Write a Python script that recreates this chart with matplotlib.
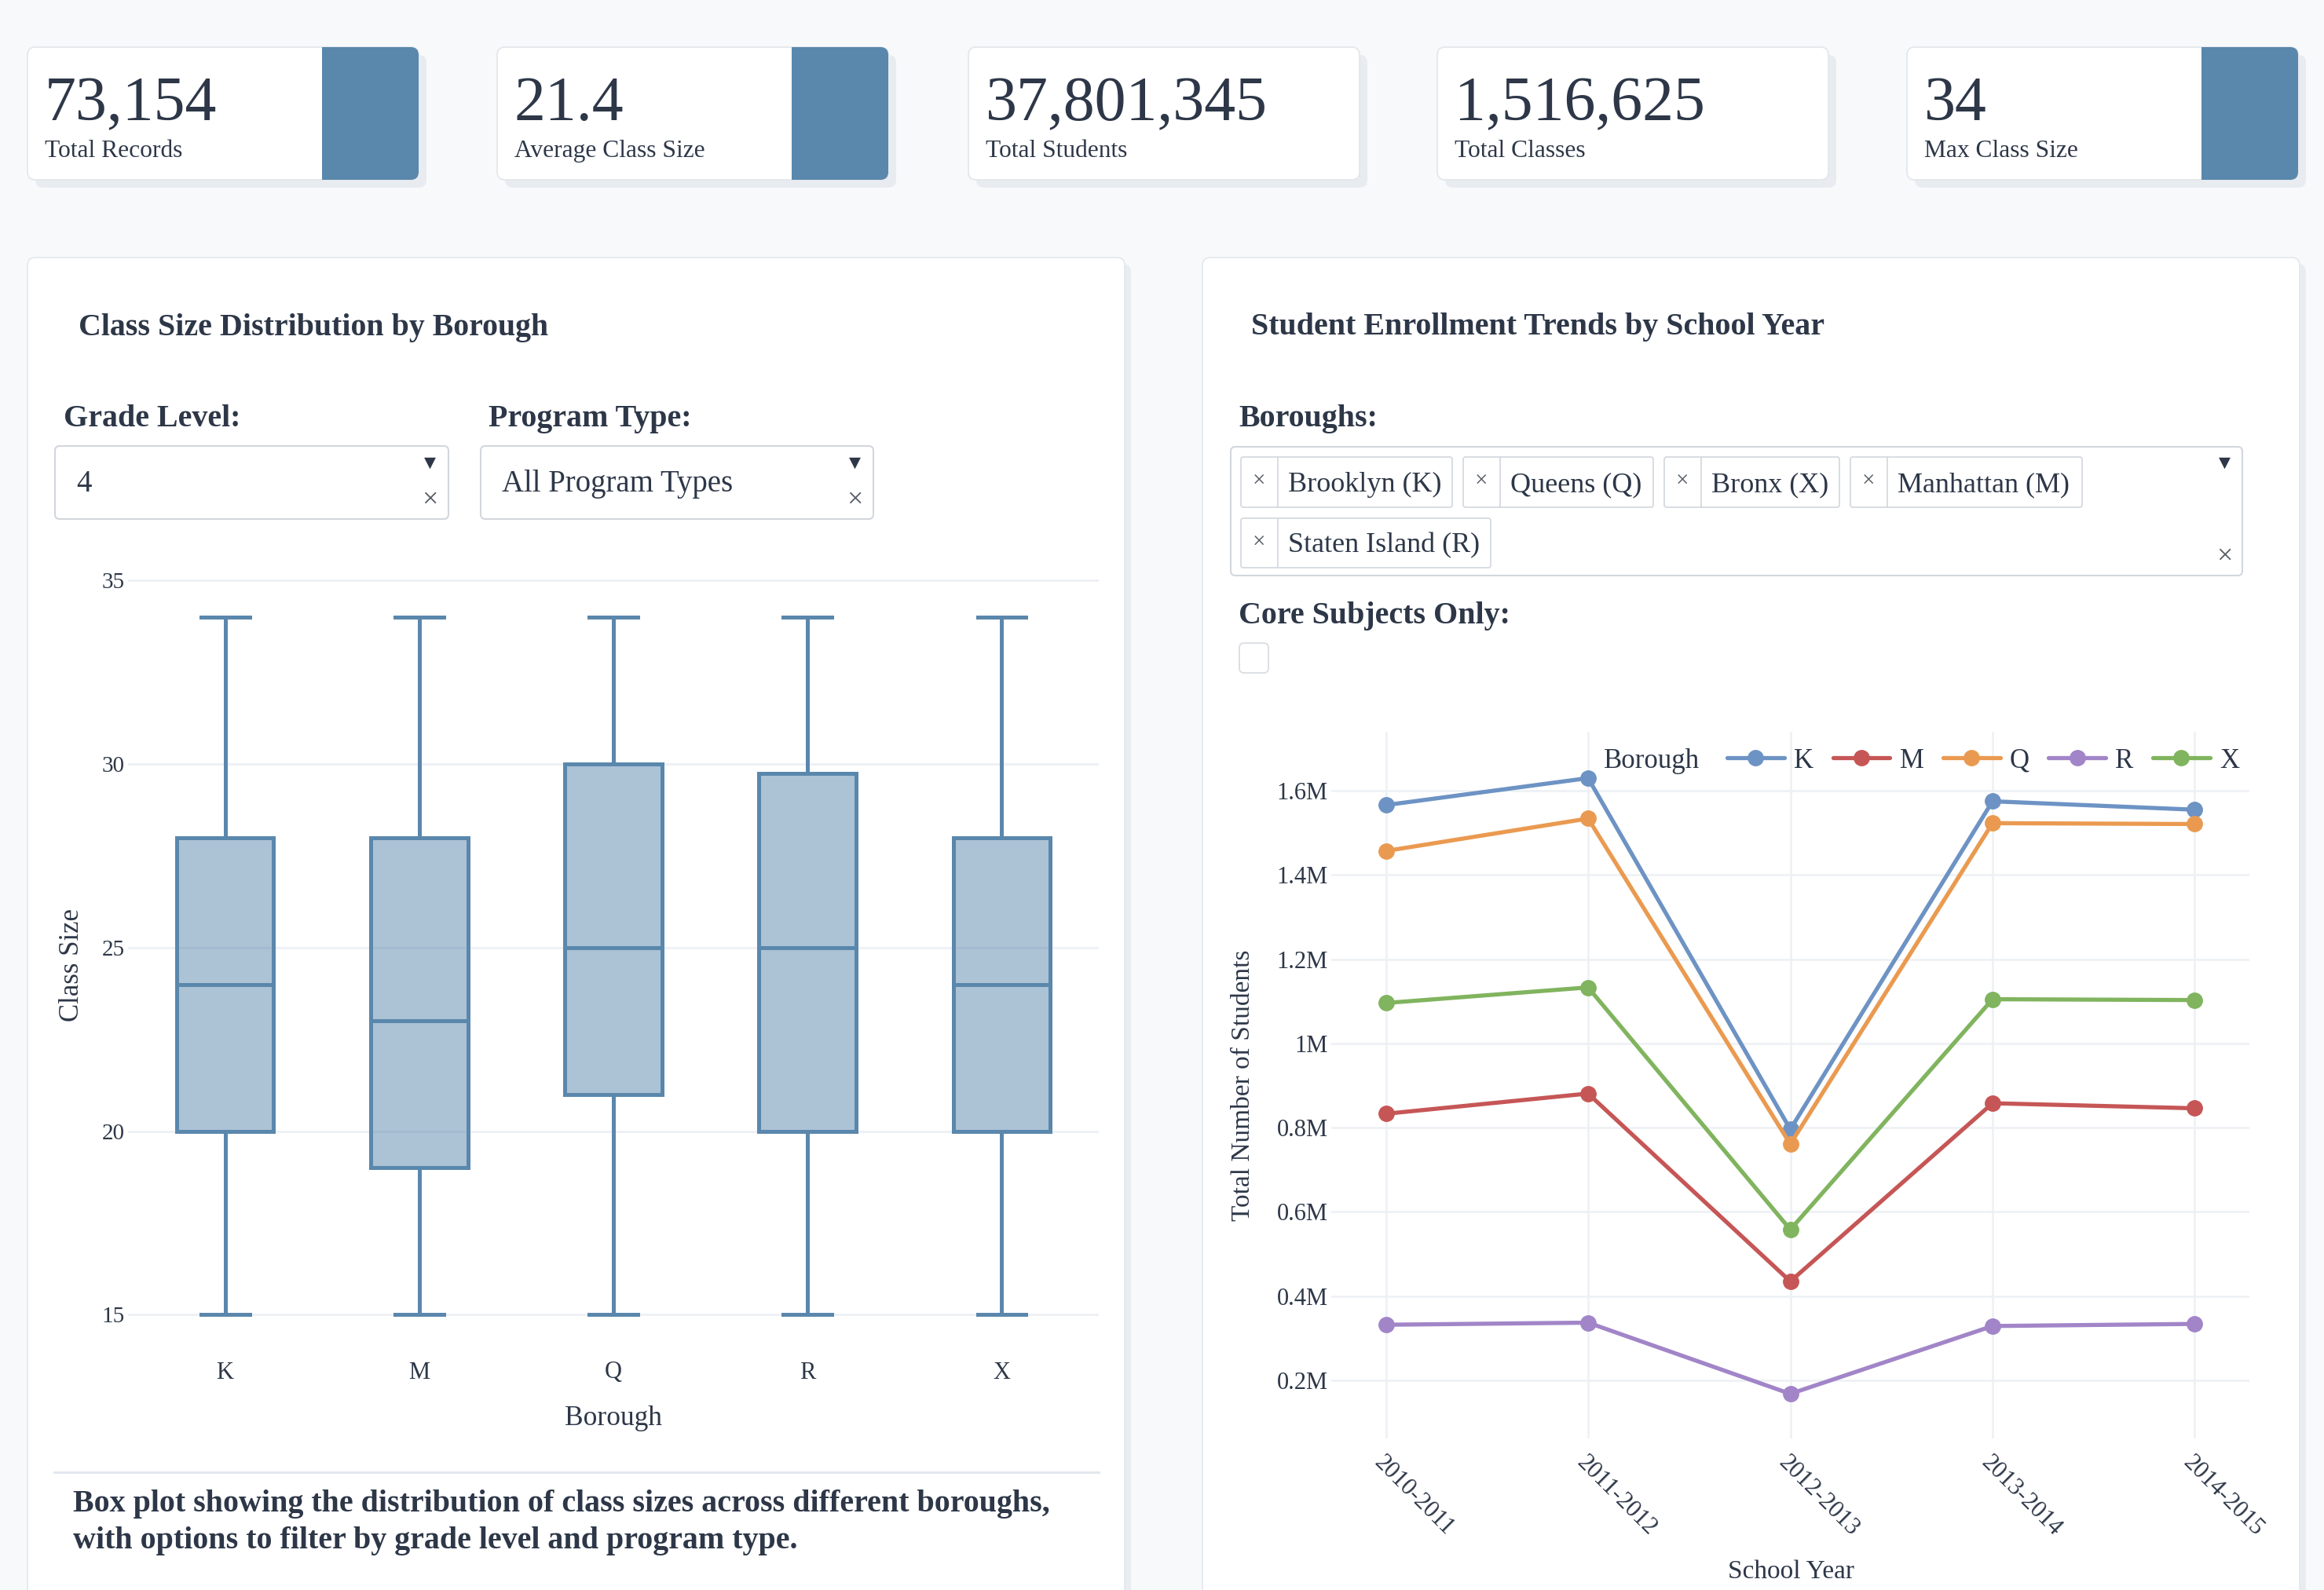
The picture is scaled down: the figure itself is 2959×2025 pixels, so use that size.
import matplotlib
matplotlib.use('Agg')
import matplotlib.pyplot as plt
from matplotlib.patches import FancyBboxPatch, Rectangle
from matplotlib.ticker import FuncFormatter

plt.rcParams['font.family'] = ['Liberation Serif', 'DejaVu Sans']

# KPI cards
kpi_values = ['73,154', '21.4', '37,801,345', '1,516,625', '34']
kpi_labels = ['Total Records', 'Average Class Size', 'Total Students', 'Total Classes', 'Max Class Size']
kpi_accent = [True, True, False, False, True]

# box plot: class size by borough (grade 4, all program types)
boroughs = ['K', 'M', 'Q', 'R', 'X']
size_min = [15, 15, 15, 15, 15]
size_q1 = [20, 19, 21, 20, 20]
size_median = [24, 23, 25, 25, 24]
size_q3 = [28, 28, 30, 29.75, 28]
size_max = [34, 34, 34, 34, 34]

# line chart: total students per school year and borough
school_years = ['2010-2011', '2011-2012', '2012-2013', '2013-2014', '2014-2015']
students_K = [1566000, 1630000, 796000, 1575000, 1555000]
students_M = [833000, 881000, 435000, 858000, 846000]
students_Q = [1457000, 1534000, 761000, 1523000, 1521000]
students_R = [332000, 337000, 168000, 329000, 334000]
students_X = [1096000, 1133000, 558000, 1105000, 1103000]
line_colors = {'K': '#6d93c4', 'M': '#c65656', 'Q': '#ea9a50', 'R': '#a285c8', 'X': '#80b45e'}

borough_filter = ['Brooklyn (K)', 'Queens (Q)', 'Bronx (X)', 'Manhattan (M)', 'Staten Island (R)']

W, H = 2959, 2025
TXT = '#2d3748'
BLUE = '#5a87ac'

fig = plt.figure(figsize=(W / 100, H / 100), dpi=100)
fig.patch.set_facecolor('#f8f9fb')

# background layer in pixel coordinates (origin top-left)
bg = fig.add_axes([0, 0, 1, 1], zorder=0)
bg.set_xlim(0, W)
bg.set_ylim(H, 0)
bg.axis('off')


def rbox(x0, y0, x1, y1, r=10, fc='white', ec='none', lw=0, z=1):
    p = FancyBboxPatch((x0 + r, y0 + r), x1 - x0 - 2 * r, y1 - y0 - 2 * r,
                       boxstyle=f'round,pad={r}', fc=fc, ec=ec, lw=lw, zorder=z)
    bg.add_patch(p)
    return p


def px_rect(x0, y0, x1, y1):
    return [x0 / W, 1 - y1 / H, (x1 - x0) / W, (y1 - y0) / H]


# KPI cards
card_left = [35, 633, 1233, 1830, 2428]
for i, (val, lab) in enumerate(zip(kpi_values, kpi_labels)):
    x0 = card_left[i]
    rbox(x0 + 10, 70, x0 + 508, 239, fc='#e8ecf0', z=1)
    card = rbox(x0, 60, x0 + 498, 229, fc='white', ec='#e2e6ea', lw=1.2, z=2)
    if kpi_accent[i]:
        blk = Rectangle((x0 + 375, 55), 130, 180, fc=BLUE, ec='none', zorder=3)
        bg.add_patch(blk)
        blk.set_clip_path(card)
    bg.text(x0 + 22, 153, val, fontsize=57.5, color=TXT, va='baseline', zorder=4)
    bg.text(x0 + 22, 200, lab, fontsize=22.7, color=TXT, va='baseline', zorder=4)

# panels
for x0, x1 in [(35, 1432), (1531, 2928)]:
    rbox(x0 + 8, 336, x1 + 8, 2100, fc='#e9edf1', z=1)
    rbox(x0, 328, x1, 2090, fc='white', ec='#e3e7ec', lw=1.2, z=2)

# left panel header and controls
bg.text(100, 427, 'Class Size Distribution by Borough', fontsize=28.7, weight='bold', color=TXT, va='baseline', zorder=4)
bg.text(81, 543, 'Grade Level:', fontsize=28.8, weight='bold', color=TXT, va='baseline', zorder=4)
bg.text(622, 543, 'Program Type:', fontsize=28.8, weight='bold', color=TXT, va='baseline', zorder=4)
for (x0, x1), val in zip([(70, 571), (612, 1112)], ['4', 'All Program Types']):
    rbox(x0, 568, x1, 661, r=6, fc='white', ec='#d2d7dd', lw=1.5, z=3)
    bg.text(x0 + 27, 626, val, fontsize=28, color=TXT, va='baseline', zorder=4)
    bg.text(x1 - 24, 589, '\u25bc', fontsize=14, color=TXT, ha='center', va='center',
            family=['DejaVu Sans'], zorder=4)
    bg.text(x1 - 24, 637, '\u00d7', fontsize=26, color='#555b63', ha='center', va='center', zorder=4)

# separator and caption under box plot
bg.plot([69, 1399], [1875, 1875], color='#e2e8f0', lw=2.2, zorder=3)
bg.text(93, 1925, 'Box plot showing the distribution of class sizes across different boroughs,',
        fontsize=28.8, weight='bold', color=TXT, va='baseline', zorder=4)
bg.text(93, 1972, 'with options to filter by grade level and program type.',
        fontsize=28.8, weight='bold', color=TXT, va='baseline', zorder=4)

# right panel header and controls
bg.text(1593, 426, 'Student Enrollment Trends by School Year', fontsize=28.8, weight='bold', color=TXT, va='baseline', zorder=4)
bg.text(1577, 543, 'Boroughs:', fontsize=28.8, weight='bold', color=TXT, va='baseline', zorder=4)
rbox(1567, 569, 2855, 733, r=6, fc='white', ec='#d2d7dd', lw=1.5, z=3)
chip_pos = [(1580, 1849, 582, 646), (1863, 2105, 582, 646), (2119, 2342, 582, 646),
            (2356, 2651, 582, 646), (1580, 1898, 660, 723)]
for name, (x0, x1, y0, y1) in zip(borough_filter, chip_pos):
    rbox(x0, y0, x1, y1, r=3, fc='white', ec='#d6dae0', lw=1.3, z=4)
    bg.plot([x0 + 47, x0 + 47], [y0, y1], color='#d6dae0', lw=1.3, zorder=5)
    bg.text(x0 + 23, (y0 + y1) / 2, '\u00d7', fontsize=21, color='#555b63', ha='center', va='center', zorder=5)
    bg.text(x0 + 60, y1 - 20, name, fontsize=26, color=TXT, va='baseline', zorder=5)
bg.text(2832, 589, '\u25bc', fontsize=14, color=TXT, ha='center', va='center', family=['DejaVu Sans'], zorder=4)
bg.text(2832, 709, '\u00d7', fontsize=26, color='#555b63', ha='center', va='center', zorder=4)
bg.text(1577, 794, 'Core Subjects Only:', fontsize=28.8, weight='bold', color=TXT, va='baseline', zorder=4)
rbox(1578, 819, 1615, 857, r=6, fc='white', ec='#d9dde2', lw=1.3, z=4)

# box plot
ax1 = fig.add_axes(px_rect(163, 716, 1399, 1721), zorder=2)
ax1.set_facecolor('none')
stats = [dict(whislo=lo, q1=a, med=m, q3=b, whishi=hi, label=name)
         for name, lo, a, m, b, hi in zip(boroughs, size_min, size_q1, size_median, size_q3, size_max)]
ax1.bxp(stats, positions=range(len(boroughs)), widths=0.5, capwidths=0.25, showfliers=False,
        patch_artist=True,
        boxprops=dict(facecolor=(0.353, 0.529, 0.675, 0.5), edgecolor=BLUE, linewidth=3.6),
        medianprops=dict(color=BLUE, linewidth=3.6),
        whiskerprops=dict(color=BLUE, linewidth=3.6),
        capprops=dict(color=BLUE, linewidth=3.6))
ax1.set_xlim(-0.5, 4.5)
ax1.set_ylim(14.0, 35.5)
ax1.set_yticks([15, 20, 25, 30, 35])
ax1.grid(axis='y', color='#edf0f4', lw=2)
ax1.set_axisbelow(True)
for s in ax1.spines.values():
    s.set_visible(False)
ax1.tick_params(axis='both', length=0, labelsize=21, colors=TXT)
ax1.tick_params(axis='y', pad=3)
ax1.tick_params(axis='x', labelsize=22, pad=9)
ax1.set_xlabel('Borough', fontsize=25.5, color=TXT, va='center')
ax1.xaxis.set_label_coords(0.5, -0.085)
ax1.set_ylabel('Class Size', fontsize=25, color=TXT, va='center')
ax1.yaxis.set_label_coords(-0.058, 0.49)

# line chart
ax2 = fig.add_axes(px_rect(1695, 932, 2864, 1832), zorder=2)
ax2.set_facecolor('none')
series = {'K': students_K, 'M': students_M, 'Q': students_Q, 'R': students_R, 'X': students_X}
xs = list(range(len(school_years)))
for b, vals in series.items():
    ax2.plot(xs, vals, color=line_colors[b], lw=3.8, marker='o', ms=14, label=b,
             solid_joinstyle='round', solid_capstyle='round')
ax2.set_xlim(-0.27, 4.27)
ax2.set_ylim(62000, 1740000)
ax2.set_yticks([200000, 400000, 600000, 800000, 1000000, 1200000, 1400000, 1600000])
ax2.yaxis.set_major_formatter(FuncFormatter(lambda v, p: f'{v / 1e6:g}M'))
ax2.set_xticks(xs)
ax2.set_xticklabels(school_years, rotation=-45, ha='left', va='top', rotation_mode='anchor')
ax2.grid(True, color='#edf0f4', lw=1.8)
ax2.set_axisbelow(True)
for s in ax2.spines.values():
    s.set_visible(False)
ax2.tick_params(axis='both', length=0, colors=TXT)
ax2.tick_params(axis='y', labelsize=22, pad=3)
ax2.tick_params(axis='x', labelsize=22, pad=12)
ax2.set_xlabel('School Year', fontsize=24, color=TXT, va='center')
ax2.xaxis.set_label_coords((2280 - 1695) / 1169, -(2002 - 1832) / 900)
ax2.set_ylabel('Total Number of Students', fontsize=24, color=TXT, va='center')
ax2.yaxis.set_label_coords(-(1695 - 1583) / 1169, (1832 - 1382) / 900)

leg = ax2.legend(loc='center left', bbox_to_anchor=(2199 / W, 1 - 969 / H), bbox_transform=fig.transFigure,
                 ncol=5, frameon=False, fontsize=25, handlelength=2.1, handletextpad=0.35,
                 columnspacing=0.7, borderpad=0, borderaxespad=0, labelcolor=TXT)
bg.text(2042, 969, 'Borough', fontsize=25, color=TXT, va='center', zorder=4)

fig.savefig('out.png', dpi=100, facecolor=fig.get_facecolor())
